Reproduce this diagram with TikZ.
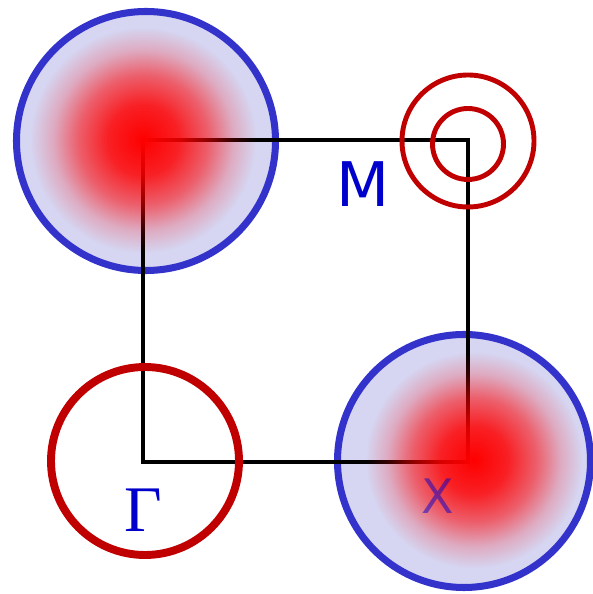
\documentclass[tikz,border=0pt]{standalone}
\definecolor{pocketblue}{RGB}{51, 51, 204}
\definecolor{pocketfill}{RGB}{214, 214, 242}
\definecolor{ringred}{RGB}{192, 0, 0}
\definecolor{labelblue}{RGB}{0, 0, 204}
\usepackage{fontspec}
\setsansfont{DejaVu Sans}
\newfontfamily\gammafont{Liberation Serif}
\usepackage{tikz}
\usetikzlibrary{fadings, positioning}

\pgfdeclareradialshading{blobshading}{\pgfpointorigin}{color(0bp)=(white); color(7bp)=(white!85!black); color(13bp)=(white!55!black); color(18bp)=(white!20!black); color(22.5bp)=(black); color(50bp)=(black)}
\pgfdeclarefading{blobfade}{\pgfuseshading{blobshading}}

\begin{document}
\begin{tikzpicture}[x=0.2mm, y=0.2mm,
    pocket/.style={draw=pocketblue, fill=pocketfill, line width=4pt},
    ring/.style={draw=ringred, line width=#1},
    blob/.style={fill=red, path fading=blobfade},
    edge/.style={black, line width=2.1pt},
    point/.style={text=labelblue, inner sep=0pt}]
                \useasboundingbox (0,0) rectangle (592,594);

                % High symmetry points
                \coordinate (G) at (143,132);
                \coordinate (X) at (468,132);
                \coordinate (M) at (468,454);
                \coordinate (Y) at (143,454);

                % Hole pockets
                \draw[pocket] (146,453) circle (129.5);
                \draw[pocket] (464,133) circle (126.5);

                % Brillouin zone
                \draw[edge] (G) -- (X) -- (M) -- (Y) -- cycle;

                % Spectral weight
                \fill[blob] (143,454) circle (125);
                \fill[blob] (474,134) circle (120);

                % Labels
                \node[point, text opacity=0.5, font=\sffamily\fontsize{27}{30}\selectfont] (Xlabel) at (438,98) {X};
                \node[point, font=\sffamily\fontsize{35}{40}\selectfont] (Mlabel) at (363,410) {M};
                \node[point, font=\gammafont\fontsize{37}{40}\selectfont] (Glabel) at (143,84) {Γ};

                % Electron pockets
                \draw[ring=4.5pt] (145,133) circle (94);
                \draw[ring=2.8pt] (468,453) circle (66);
                \draw[ring=2.8pt] (468,450) circle (35.5);
            \end{tikzpicture}
\end{document}
